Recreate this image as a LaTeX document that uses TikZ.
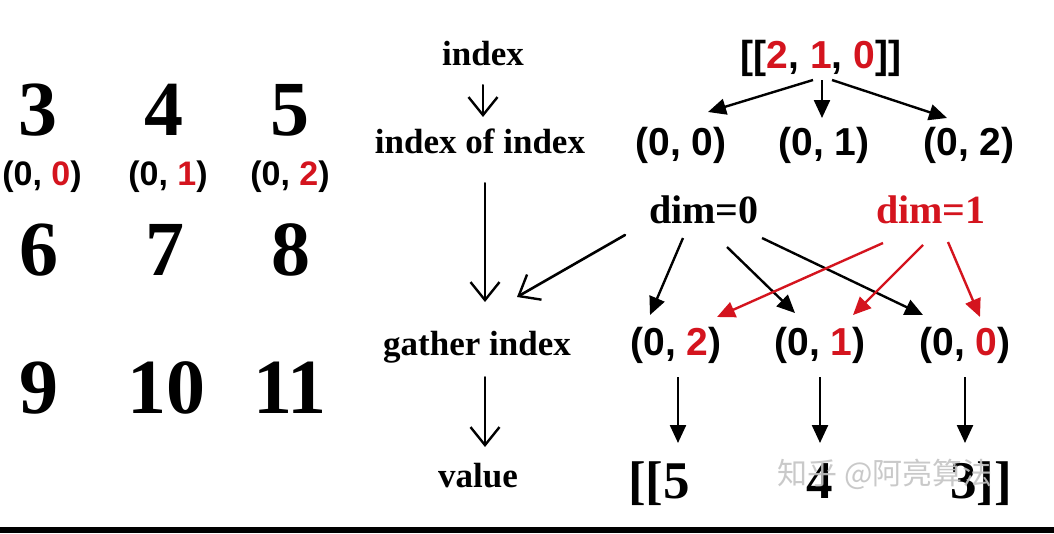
\documentclass[tikz,border=0pt]{standalone}
\usepackage{fontspec}
\setmainfont{Liberation Serif}
\newfontfamily\sansf{Liberation Sans}
\newfontfamily\cjkf{Noto Sans CJK SC}
\usetikzlibrary{arrows.meta,calc}
\definecolor{myred}{RGB}{212,20,30}
\definecolor{wm}{RGB}{196,196,196}
\tikzset{
  num/.style={font=\bfseries\fontsize{78}{78}\selectfont, inner sep=0pt, anchor=base},
  tupS/.style={font=\sansf\bfseries\fontsize{34}{34}\selectfont, inner sep=0pt, anchor=base},
  tupL/.style={font=\sansf\bfseries\fontsize{39}{39}\selectfont, inner sep=0pt, anchor=base},
  lab/.style={font=\bfseries\fontsize{35}{35}\selectfont, inner sep=0pt, anchor=base},
  diml/.style={font=\bfseries\fontsize{40}{40}\selectfont, inner sep=0pt, anchor=base},
  vall/.style={font=\bfseries\fontsize{53}{53}\selectfont, inner sep=0pt, anchor=base west},
  arr/.style={line width=2.4pt, -{Triangle[length=18pt,width=16pt]}},
  rarr/.style={arr, color=myred},
  hand/.style={line width=2pt, line cap=round, -{Straight Barb[length=18pt,width=29pt,line width=2.4pt]}},
}
\newcommand{\rd}[1]{\textcolor{myred}{#1}}
\begin{document}
\begin{tikzpicture}[x=1pt,y=-1pt]
\useasboundingbox (0,0) rectangle (1054,533);
\fill[white] (0,0) rectangle (1054,533);
\fill[black] (0,527) rectangle (1054,533);

% left grid
\node[num] (n3) at (38,135) {3};
\node[num] (n4) at (164,135) {4};
\node[num] (n5) at (290,135) {5};
\node[tupS] (p0) at (42,185) {(0, \rd{0})};
\node[tupS] (p1) at (168,185) {(0, \rd{1})};
\node[tupS] (p2) at (290,185) {(0, \rd{2})};
\node[num] (n6) at (39,275) {6};
\node[num] (n7) at (165,275) {7};
\node[num] (n8) at (291,275) {8};
\node[num] (n9) at (39,413) {9};
\node[num] (n10) at (166,413) {10};
\node[num] (n11) at (290,413) {11};

% middle labels
\node[lab] (idx) at (483,65) {index};
\node[lab] (ioi) at (480,153) {index of index};
\node[lab] (gi) at (477,355) {gather index};
\node[lab] (val) at (478,487) {value};

% right part
\node[tupL] (top) at (821,68) {[[\rd{2}, \rd{1}, \rd{0}]]};
\node[tupL] (a0) at (681,155) {(0, 0)};
\node[tupL] (a1) at (824,155) {(0, 1)};
\node[tupL] (a2) at (969,155) {(0, 2)};
\node[diml] (d0) at (704,223) {dim=0};
\node[diml, text=myred] (d1) at (931,223) {dim=1};
\node[tupL] (b0) at (676,355) {(0, \rd{2})};
\node[tupL] (b1) at (820,355) {(0, \rd{1})};
\node[tupL] (b2) at (965,355) {(0, \rd{0})};
\node[vall] (v0) at (628,498) {[[5};
\node[vall, anchor=base] (v1) at (820,498) {4};
\node[vall] (v2) at (950,498) {3]]};

% hand-drawn arrows
\draw[hand] ($(idx.base)+(0,20)$) -- ($(ioi.base)+(3,-36)$);
\draw[hand] ($(ioi.base)+(5,30)$) -- ($(gi.base)+(8,-53)$);
\draw[hand, line width=2.6pt] ($(d0.base)+(-79,12)$) -- ($(gi.base)+(40,-58)$);
\draw[hand] ($(gi.base)+(8,22)$) -- ($(val.base)+(7,-40)$);

% black arrows
\draw[arr] ($(top.base)+(-8,12)$) -- ($(a0.base)+(27,-43)$);
\draw[arr] ($(top.base)+(1,12)$) -- ($(a1.base)+(-2,-37)$);
\draw[arr] ($(top.base)+(11,12)$) -- ($(a2.base)+(-22,-37)$);
\draw[arr] ($(d0.base)+(-21,15)$) -- ($(b0.base)+(-26,-40)$);
\draw[arr] ($(d0.base)+(23,24)$) -- ($(b1.base)+(-25,-42)$);
\draw[arr] ($(d0.base)+(58,15)$) -- ($(b2.base)+(-42,-40)$);
\draw[rarr] ($(d1.base)+(-48,20)$) -- ($(b0.base)+(41,-38)$);
\draw[rarr] ($(d1.base)+(-8,22)$) -- ($(b1.base)+(33,-40)$);
\draw[rarr] ($(d1.base)+(17,19)$) -- ($(b2.base)+(15,-38)$);
\draw[arr] ($(b0.base)+(2,22)$) -- ($(v0.base west)+(50,-55)$);
\draw[arr] ($(b1.base)+(0,22)$) -- ($(v1.base)+(0,-55)$);
\draw[arr] ($(b2.base)+(0,22)$) -- ($(v2.base west)+(15,-55)$);

% watermark
\node[font=\cjkf\fontsize{30}{30}\selectfont, text=wm, inner sep=0pt, anchor=base, opacity=0.9] (wmk) at (885,484) {知乎 @阿亮算法};
\end{tikzpicture}
\end{document}
